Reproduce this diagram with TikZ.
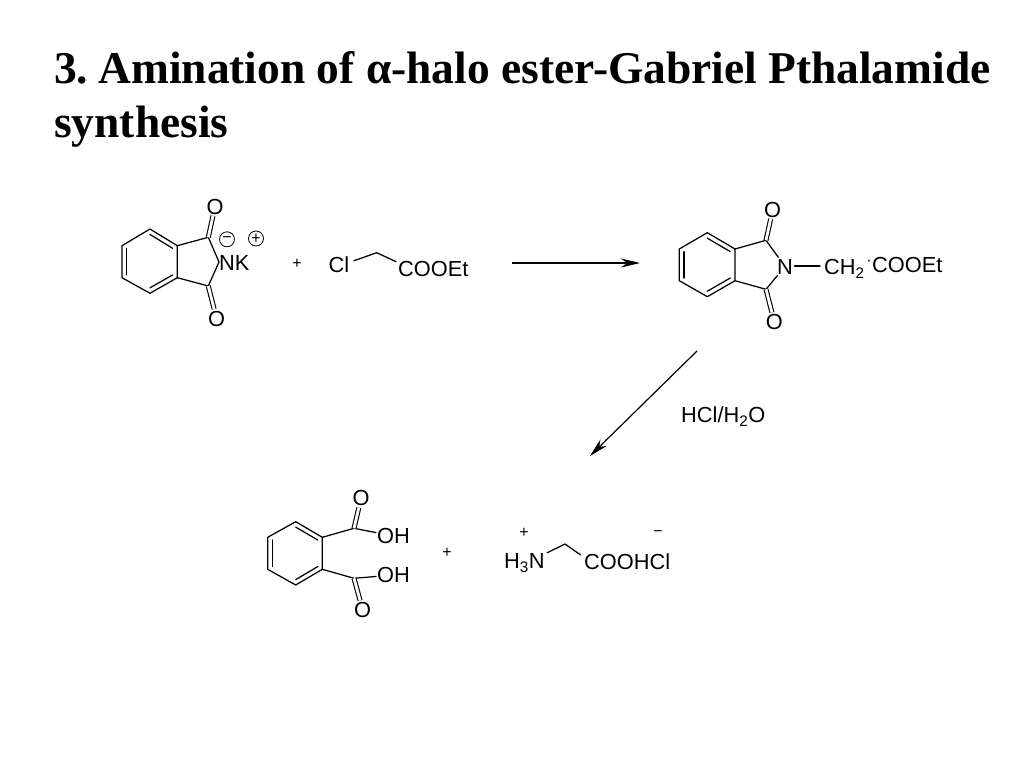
\documentclass[tikz,border=0pt]{standalone}
\usepackage{fontspec}
\setmainfont{Liberation Sans}
\newfontfamily\titlefont{Liberation Serif}
\usetikzlibrary{arrows.meta,calc}
\tikzset{
  x=1pt,y=-1pt,
  atom/.style={inner sep=1.5pt,font=\fontsize{21.8}{24}\selectfont},
  bond/.style={line width=1.25pt,line cap=round,line join=round},
  dbond/.style={line width=1.1pt,double,double distance=2.8pt},
  plainsign/.style={inner sep=0pt,font=\fontsize{16}{16}\selectfont},
  chargering/.style={circle,draw,line width=.8pt,minimum size=15pt,inner sep=0pt,font=\fontsize{16}{16}\selectfont},
  reaction/.style={line width=1.2pt,-{Stealth[length=19pt,width=9pt,inset=6pt]}},
}
\newcommand{\benzene}[7]{%
  % #1 name prefix, #2..#7 vertices top, UR, LR, bottom, LL, UL
  \coordinate (#1a) at #2; \coordinate (#1b) at #3; \coordinate (#1c) at #4;
  \coordinate (#1d) at #5; \coordinate (#1e) at #6; \coordinate (#1f) at #7;
  \coordinate (#1m) at ($(#1a)!.5!(#1d)$);
  \draw[bond] (#1a)--(#1b)--(#1c)--(#1d)--(#1e)--(#1f)--cycle;
  \draw[bond] ($(#1a)!.17!(#1m)$)--($(#1b)!.17!(#1m)$);
  \draw[bond] ($(#1c)!.17!(#1m)$)--($(#1d)!.17!(#1m)$);
  \draw[bond] ($(#1e)!.17!(#1m)$)--($(#1f)!.17!(#1m)$);
}
\begin{document}
\begin{tikzpicture}
\useasboundingbox (0,0) rectangle (1024,768);
\fill[white] (0,0) rectangle (1024,768);
\node[anchor=north west,align=left,inner sep=0pt,font=\titlefont\bfseries\fontsize{45.45}{54}\selectfont] (title) at (54,51)
  {3.\hspace{-5pt} Amination of α-halo ester-Gabriel Pthalamide\\synthesis};

% Phthalimide potassium salt
\benzene{p}{(150,229)}{(177.3,245.7)}{(177.3,277.7)}{(150,293.3)}{(122,277.7)}{(122,245.7)}
\coordinate (pc1) at (208.3,237.3);
\coordinate (pc2) at (208.3,286);
\node[atom,anchor=west,inner sep=1pt] (pnk) at (218,263) {NK};
\coordinate (pn) at (219,262);
\node[atom] (po1) at (215,206.5) {O};
\node[atom] (po2) at (216.5,318.5) {O};
\draw[bond] (pb)--(pc1)--(pn) (pc)--(pc2)--(pn);
\draw[dbond] (pc1)--(po1);
\draw[dbond] (pc2)--(po2);
\node[chargering] (minus) at (227,239.3) {\raisebox{-1.5pt}{−}};
\node[chargering] (plus) at (256,238.5) {\raisebox{-1pt}{+}};
\node[plainsign] (plus1) at (297,264) {+};

% Chloroacetate
\node[atom] (cl) at (339,265) {Cl};
\coordinate (cm) at (376.7,252.7);
\node[atom,anchor=west,inner sep=0pt] (coo1) at (398,268.5) {COOEt};
\coordinate (cla) at (354,260.7);
\coordinate (coa) at (396,261.7);
\draw[bond] (cla) -- (cm) -- (coa);

% Reaction arrows
\coordinate (a1s) at (512,263);
\coordinate (a1e) at (640,263);
\draw[reaction] (a1s)--(a1e);
\coordinate (a2s) at (697,351);
\coordinate (a2e) at (590,456);
\draw[reaction] (a2s)--(a2e);
\node[atom,anchor=west,inner sep=0pt] (hcl) at (681,416.5) {HCl/H\textsubscript{2}O};

% N-substituted phthalimide
\benzene{q}{(707.3,232.7)}{(735,249)}{(735,280.7)}{(707.3,296.7)}{(679.3,280.7)}{(679.3,249)}
\coordinate (qc1) at (766,240.3);
\coordinate (qc2) at (766,289.3);
\node[atom] (qn) at (785,266.5) {N};
\node[atom] (qo1) at (772.7,209.5) {O};
\node[atom] (qo2) at (774.3,322) {O};
\draw[bond] (qb)--(qc1)--(qn) (qc)--(qc2)--(qn);
\draw[dbond] (qc1)--(qo1);
\draw[dbond] (qc2)--(qo2);
\node[atom,anchor=west,inner sep=0pt] (qch) at (824,269) {CH\textsubscript{2}};
\coordinate (qbe) at (820,266);
\draw[bond] (qn.east |- qbe)--(qbe);
\node[inner sep=0pt,font=\fontsize{16}{16}\selectfont] (qdot) at (869,263) {·};
\node[atom,anchor=west,inner sep=0pt] (coo2) at (872,265) {COOEt};

% Phthalic acid
\benzene{r}{(295.7,521.7)}{(322.3,537.3)}{(322.3,569.3)}{(295.7,585)}{(267.7,569.3)}{(267.7,537.3)}
\coordinate (rc1) at (354,528.3);
\coordinate (rc2) at (354,578.3);
\node[atom] (ro1) at (361,498.3) {O};
\node[atom] (ro2) at (362.7,610) {O};
\node[atom,anchor=west,inner sep=1pt] (roh1) at (376,536) {OH};
\node[atom,anchor=west,inner sep=1pt] (roh2) at (376,575) {OH};
\draw[bond] (rb)--(rc1)--(roh1) (rc)--(rc2)--(roh2);
\draw[dbond] (rc1)--(ro1);
\draw[dbond] (rc2)--(ro2);
\node[plainsign] (plus2) at (447,553) {+};

% Glycine hydrochloride
\node[plainsign] (plus3) at (524,532.5) {+};
\node[plainsign] (minus2) at (658,534) {−};
\node[atom,anchor=west,inner sep=0pt] (h3n) at (504,563) {H\textsubscript{3}N};
\node[atom,anchor=west,inner sep=0pt] (gly) at (584,561.5) {COOHCl};
\coordinate (gm) at (565,544);
\coordinate (gla) at (547.3,552.7);
\coordinate (glb) at (580.7,555);
\draw[bond] (gla) -- (gm) -- (glb);
\end{tikzpicture}
\end{document}
